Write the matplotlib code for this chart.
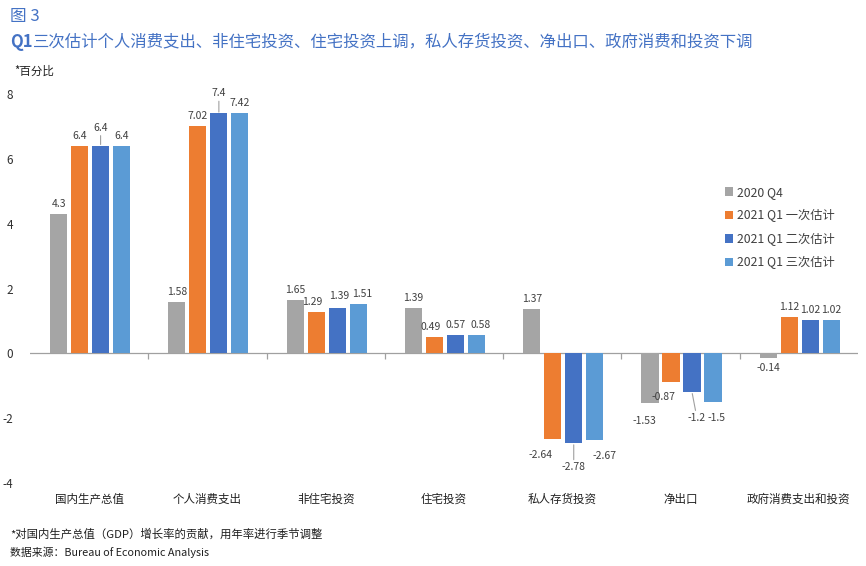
import matplotlib
matplotlib.use("Agg")
import matplotlib.pyplot as plt
import numpy as np

plt.rcParams['font.family'] = ['Noto Sans CJK SC', 'DejaVu Sans']

categories = ["国内生产总值", "个人消费支出", "非住宅投资", "住宅投资", "私人存货投资", "净出口", "政府消费支出和投资"]
series_names = ["2020 Q4", "2021 Q1 一次估计", "2021 Q1 二次估计", "2021 Q1 三次估计"]
q4_2020 = [4.3, 1.58, 1.65, 1.39, 1.37, -1.53, -0.14]
est1 = [6.4, 7.02, 1.29, 0.49, -2.64, -0.87, 1.12]
est2 = [6.4, 7.4, 1.39, 0.57, -2.78, -1.2, 1.02]
est3 = [6.4, 7.42, 1.51, 0.58, -2.67, -1.5, 1.02]
yticks = [-4, -2, 0, 2, 4, 6, 8]

colors = ["#A5A5A5", "#ED7D31", "#4472C4", "#5B9BD5"]
series = [q4_2020, est1, est2, est3]

# label offsets in pixels (dx, dy, leader line) for specific labels
special = {
    (2, 0): (0, 8, True),
    (2, 1): (0, 10, True),
    (1, 4): (-12, -6, False),
    (2, 4): (0, -14, True),
    (3, 4): (10, -6, False),
    (0, 5): (-6, -8, False),
    (1, 5): (-8, -5, False),
    (2, 5): (5, -16, True),
    (3, 5): (4, -6, False),
    (1, 2): (-4, 0, False),
    (2, 2): (2, 2, False),
    (3, 2): (4, 0, False),
    (1, 3): (-4, 0, False),
    (2, 3): (0, 0, False),
    (3, 3): (4, 0, False),
}

fig = plt.figure(figsize=(8.66, 5.66), dpi=100)
ax = fig.add_axes([30/866, 1-483/566, 828/866, 389/566])

x = np.arange(len(categories))
step = 0.1775
width = 0.145
for i, (vals, c, name) in enumerate(zip(series, colors, series_names)):
    xs = x + (i - 1.5) * step + 0.008
    ax.bar(xs, vals, width=width, color=c, label=name, zorder=2)
    for j, v in enumerate(vals):
        dx, dy, lead = special.get((i, j), (0, 0, False))
        base = 5 if v >= 0 else -5
        txt = f"{v:g}"
        kw = dict(textcoords='offset pixels', ha='center',
                  va='bottom' if v >= 0 else 'top', fontsize=7.5, color='#404040')
        if lead:
            kw['arrowprops'] = dict(arrowstyle='-', color='#A0A0A0', lw=0.8, shrinkA=0, shrinkB=1)
        ax.annotate(txt, xy=(xs[j], v), xytext=(dx, base + dy), **kw)

ax.set_xlim(-0.5, len(categories) - 0.5)
ax.set_ylim(-4, 8)
ax.set_yticks(yticks)
ax.set_yticklabels([str(t) for t in yticks], fontsize=8.5, color='#303030')
for s in ax.spines.values():
    s.set_visible(False)
ax.tick_params(axis='y', length=0, pad=12)
ax.set_xticks(x)
ax.set_xticklabels(categories, fontsize=8.3, color='#202020')
ax.tick_params(axis='x', length=0, pad=7)

ax.axhline(0, color='#A0A0A0', lw=0.9, zorder=1)
bounds = np.arange(len(categories) + 1) - 0.5
ax.vlines(bounds[1:-1], -0.17, 0, color='#A0A0A0', lw=0.9, zorder=1)

leg = ax.legend(loc='upper left', bbox_to_anchor=(690/828, (483-181)/389), frameon=False,
                fontsize=8.8, handlelength=0.7, handleheight=0.7, handletextpad=0.3,
                labelspacing=0.85, borderaxespad=0)
for t in leg.get_texts():
    t.set_color('#404040')

fig.text(10/866, 1-16/566, "图 3", fontsize=12, color='#4472C4', va='center', ha='left')
t1 = fig.text(10/866, 1-42/566, "Q1", fontsize=12, color='#4472C4', fontweight='bold', va='center', ha='left')
fig.canvas.draw()
ax.annotate("三次估计个人消费支出、非住宅投资、住宅投资上调，私人存货投资、净出口、政府消费和投资下调",
            xy=(1, 0.5), xycoords=t1, va='center', ha='left', fontsize=11.8, color='#4472C4',
            annotation_clip=False)
fig.text(14/866, 1-71/566, "*百分比", fontsize=8.3, color='#202020', va='center', ha='left')
fig.text(10/866, 1-534/566, "*对国内生产总值（GDP）增长率的贡献，用年率进行季节调整", fontsize=8.2,
         color='#202020', va='center', ha='left')
fig.text(10/866, 1-552/566, "数据来源：Bureau of Economic Analysis", fontsize=7.8,
         color='#202020', va='center', ha='left')

fig.savefig("out.png", dpi=100)
